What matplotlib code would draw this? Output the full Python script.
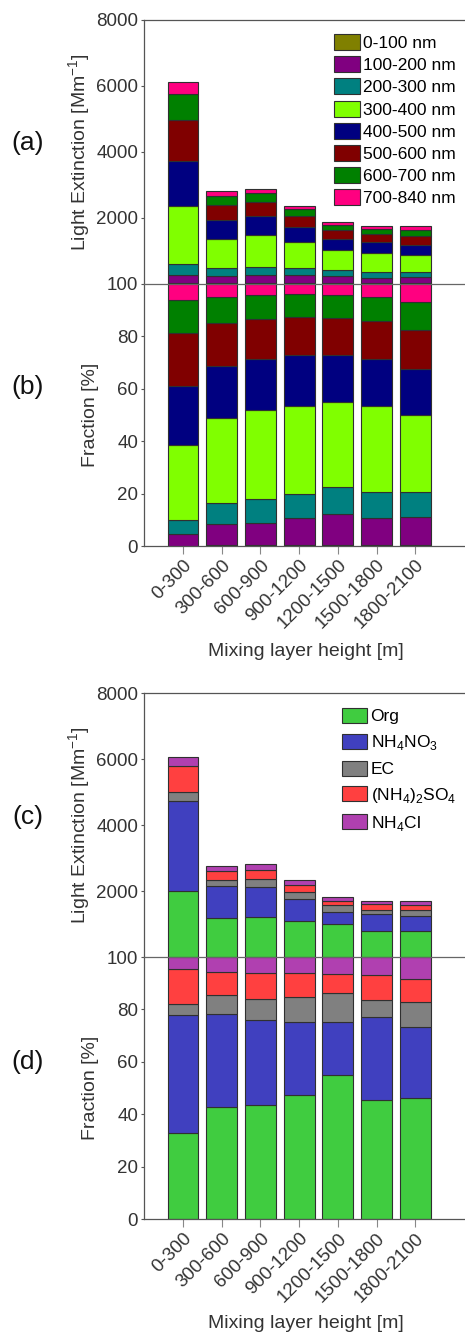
import numpy as np
import matplotlib
matplotlib.use('Agg')
import matplotlib.pyplot as plt

plt.rcParams['font.family'] = ['Liberation Sans', 'DejaVu Sans']
plt.rcParams['mathtext.fontset'] = 'custom'
plt.rcParams['mathtext.rm'] = 'Liberation Sans'

heights = ['0-300', '300-600', '600-900', '900-1200', '1200-1500', '1500-1800', '1800-2100']

# light extinction by particle size bin [Mm-1]
size_bins = ['0-100 nm', '100-200 nm', '200-300 nm', '300-400 nm',
             '400-500 nm', '500-600 nm', '600-700 nm', '700-840 nm']
ext_0_100 = [6, 6, 6, 5, 9, 5, 9]
ext_100_200 = [264, 227, 246, 243, 216, 180, 186]
ext_200_300 = [337, 227, 263, 219, 192, 176, 165]
ext_300_400 = [1747, 904, 967, 793, 606, 579, 508]
ext_400_500 = [1379, 560, 561, 455, 329, 317, 306]
ext_500_600 = [1238, 456, 432, 342, 262, 253, 256]
ext_600_700 = [785, 277, 260, 205, 164, 160, 190]
ext_700_840 = [374, 143, 126, 97, 82, 90, 120]
size_colors = ['#808000', '#800080', '#008080', '#80FF00',
               '#000080', '#800000', '#008000', '#FF0080']

# light extinction by chemical species [Mm-1]
species = ['Org', r'NH$_\mathregular{4}$NO$_\mathregular{3}$', 'EC',
           r'(NH$_\mathregular{4}$)$_\mathregular{2}$SO$_\mathregular{4}$',
           r'NH$_\mathregular{4}$Cl']
ext_org = [2006, 1183, 1222, 1107, 1007, 778, 790]
ext_no3 = [2718, 968, 916, 645, 373, 539, 467]
ext_ec = [274, 198, 222, 221, 199, 113, 161]
ext_so4 = [796, 245, 278, 217, 132, 166, 149]
ext_cl = [286, 157, 171, 140, 119, 115, 144]
species_colors = ['#40CC40', '#4040BF', '#808080', '#FF4040', '#B040B0']

W, H = 465, 1335
fig = plt.figure(figsize=(W / 100, H / 100), dpi=100)

def px_axes(top, bottom):
    left = 144.3
    return fig.add_axes([left / W, 1 - bottom / H, (W - left) / W, (bottom - top) / H])

ax_a = px_axes(20, 283.6)
ax_b = px_axes(283.6, 546)
ax_c = px_axes(693.3, 957)
ax_d = px_axes(957, 1219.3)

x = np.arange(1, len(heights) + 1)
edge = '#303030'
txtc = '#333333'

def stack(ax, series, colors, labels, frac):
    data = np.array(series, dtype=float)
    if frac:
        data = data / data.sum(axis=0) * 100
    bottom = np.zeros(len(x))
    for vals, col, lab in zip(data, colors, labels):
        ax.bar(x, vals, 0.8, bottom=bottom, color=col, edgecolor=edge,
               linewidth=0.8, label=lab)
        bottom += vals

def style(ax, top_panel):
    ax.set_xlim(0, (W - 144.3) / 38.7)
    ax.spines['right'].set_visible(False)
    for s in ['left', 'top', 'bottom']:
        ax.spines[s].set_color('#555555')
        ax.spines[s].set_linewidth(0.9)
    ax.tick_params(axis='y', direction='out', length=2.5, width=0.8,
                   colors='#555555', labelcolor=txtc, labelsize=13.5, pad=2)
    ax.set_xticks(x)
    if top_panel:
        ax.set_ylim(0, 8000)
        ax.set_yticks([2000, 4000, 6000, 8000])
        ax.tick_params(axis='x', length=0, labelbottom=False)
        ax.spines['bottom'].set_visible(False)
    else:
        ax.set_ylim(0, 100)
        ax.set_yticks([0, 20, 40, 60, 80, 100])
        ax.spines['top'].set_color('#666666')
        ax.tick_params(axis='x', direction='out', length=5.5, width=0.8,
                       colors='#888888', labelcolor=txtc, labelsize=13.5, pad=2)
        ax.set_xticklabels(heights, rotation=45, ha='right', va='top',
                           rotation_mode='anchor')

size_series = [ext_0_100, ext_100_200, ext_200_300, ext_300_400,
               ext_400_500, ext_500_600, ext_600_700, ext_700_840]
spec_series = [ext_org, ext_no3, ext_ec, ext_so4, ext_cl]

stack(ax_a, size_series, size_colors, size_bins, False)
stack(ax_b, size_series, size_colors, size_bins, True)
stack(ax_c, spec_series, species_colors, species, False)
stack(ax_d, spec_series, species_colors, species, True)

for ax in [ax_a, ax_c]:
    style(ax, True)
for ax in [ax_b, ax_d]:
    style(ax, False)

ax_a.legend(loc='upper left', bbox_to_anchor=(334 / W, 1 - 34.0 / H),
            bbox_transform=fig.transFigure, frameon=False, fontsize=12.5,
            handlelength=1.5, handleheight=1.05, handletextpad=0.18,
            labelspacing=0.3, borderpad=0, borderaxespad=0)
ax_c.legend(loc='upper left', bbox_to_anchor=(341.7 / W, 1 - 708 / H),
            bbox_transform=fig.transFigure, frameon=False, fontsize=12.5,
            handlelength=1.48, handleheight=0.95, handletextpad=0.18,
            labelspacing=0.5, borderpad=0, borderaxespad=0)

def ftext(px, py, s, **kw):
    fig.text(px / W, 1 - py / H, s, ha='center', va='center', **kw)

ylab = r'Light Extinction [Mm$^\mathregular{-1}$]'
ftext(80, 152, ylab, rotation=90, fontsize=14, color=txtc)
ftext(90, 415, 'Fraction [%]', rotation=90, fontsize=14, color=txtc)
ftext(80, 825, ylab, rotation=90, fontsize=14, color=txtc)
ftext(90, 1088, 'Fraction [%]', rotation=90, fontsize=14, color=txtc)
ftext(306, 651, 'Mixing layer height [m]', fontsize=14, color=txtc)
ftext(306, 1324, 'Mixing layer height [m]', fontsize=14, color=txtc)

for lab, py in [('(a)', 143), ('(b)', 387), ('(c)', 817), ('(d)', 1062)]:
    ftext(28, py, lab, fontsize=19, color='#111111')

fig.savefig('out.png', dpi=100)
